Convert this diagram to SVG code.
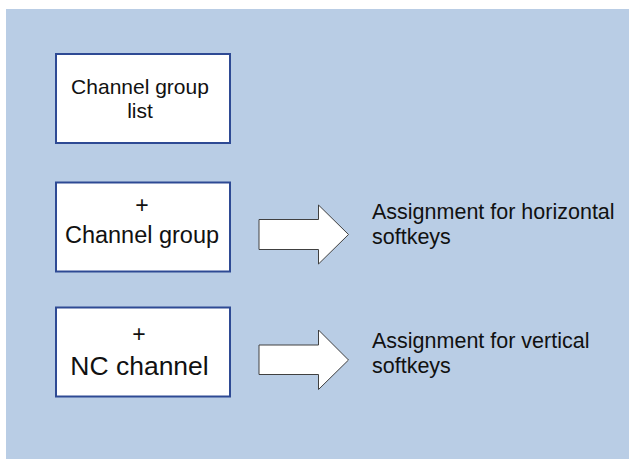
<svg xmlns="http://www.w3.org/2000/svg" width="629" height="459" viewBox="0 0 629 459">
<style>
.box{fill:#ffffff;stroke:#2E4A94;stroke-width:2}
.arrow{fill:#ffffff;stroke:#404040;stroke-width:1}
text{font-family:"Liberation Sans",Arial,sans-serif;fill:#111111}
.c{text-anchor:middle}
</style>
<rect x="0" y="0" width="629" height="459" fill="#ffffff"/>
<rect x="6" y="9" width="623" height="450" fill="#B9CDE5"/>
<g id="node-channel-group-list">
<rect class="box" x="56" y="54" width="174" height="89"/>
<text class="c" x="140" y="94" font-size="21">Channel group</text>
<text class="c" x="140" y="118" font-size="21">list</text>
</g>
<g id="node-channel-group">
<rect class="box" x="56" y="182.5" width="174" height="89"/>
<text class="c" x="142" y="213" font-size="23">+</text>
<text class="c" x="142" y="243.3" font-size="23.5">Channel group</text>
</g>
<g id="node-nc-channel">
<rect class="box" x="56" y="307.5" width="174" height="89"/>
<text class="c" x="139" y="342" font-size="23">+</text>
<text class="c" x="139.5" y="375" font-size="26.5">NC channel</text>
</g>
<g id="connectors">
<polygon class="arrow" points="259,219.5 318.5,219.5 318.5,205 348.5,234.5 318.5,264 318.5,249.5 259,249.5"/>
<polygon class="arrow" points="259,345 318.5,345 318.5,330 348.5,360 318.5,389.5 318.5,374.5 259,374.5"/>
</g>
<g id="label-horizontal">
<text x="372" y="219.3" font-size="21.5">Assignment for horizontal</text>
<text x="372" y="244.3" font-size="21.5">softkeys</text>
</g>
<g id="label-vertical">
<text x="372" y="348.3" font-size="21.5">Assignment for vertical</text>
<text x="372" y="372.7" font-size="21.5">softkeys</text>
</g>
</svg>
